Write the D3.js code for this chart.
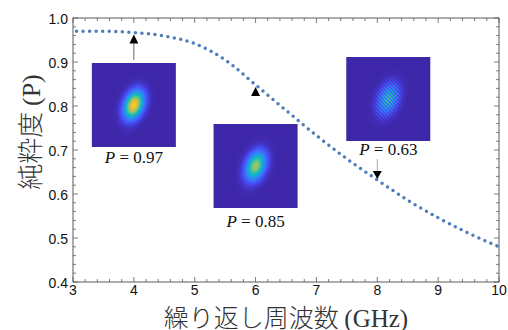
<!DOCTYPE html>
<html>
<head>
<meta charset="utf-8">
<script src="https://cdn.jsdelivr.net/npm/d3@7"></script>
<style>
  html, body { margin: 0; padding: 0; background: #fff; }
  svg { display: block; }
  .sans { font-family: 'Liberation Sans', Arial, sans-serif; }
  .serif { font-family: 'Liberation Serif', 'DejaVu Serif', serif; }
  .cjk { font-family: 'Noto Sans CJK JP', sans-serif; font-weight: 300; }
</style>
</head>
<body>
<svg id="chart"></svg>
<script>
const WIDTH = 508;
const HEIGHT = 330;

// purity vs repetition frequency
const freq = [3, 3.5, 4, 4.5, 5, 5.5, 6, 6.5, 7, 7.5, 8, 8.5, 9, 9.5, 10];
const purity = [0.970, 0.970, 0.967, 0.959, 0.942, 0.905, 0.848, 0.790, 0.733, 0.680, 0.632, 0.586, 0.546, 0.511, 0.480];

const xTicks = [3, 4, 5, 6, 7, 8, 9, 10];
const yTicks = [0.4, 0.5, 0.6, 0.7, 0.8, 0.9, 1.0];

// annotated points (inset images)
const markFreq = [4, 6, 8];
const markPurity = [0.97, 0.85, 0.63];
const markDir = ['up', 'up', 'down'];

const margin = { top: 18, right: 9, bottom: 48, left: 73 };

const svg = d3.select('#chart').attr('width', WIDTH).attr('height', HEIGHT);

const x = d3.scaleLinear().domain([3, 10]).range([margin.left, WIDTH - margin.right]);
const y = d3.scaleLinear().domain([0.4, 1.0]).range([HEIGHT - margin.bottom, margin.top]);

const frameColor = '#5a5a5a';
const x0 = x.range()[0], x1 = x.range()[1];
const y0 = y.range()[0], y1 = y.range()[1];

// frame
svg.append('rect')
	.attr('x', x0).attr('y', y1)
	.attr('width', x1 - x0).attr('height', y0 - y1)
	.attr('fill', 'none')
	.attr('stroke', frameColor)
	.attr('stroke-width', 1);

// ticks, pointing inward on all four sides
const xMinor = d3.range(3, 10.001, 0.2);
const yMinor = d3.range(0.4, 1.0001, 0.02);
const tickG = svg.append('g').attr('stroke', frameColor).attr('stroke-width', 0.8);

xMinor.forEach((v) => {
	const major = Math.abs(v - Math.round(v)) < 1e-6;
	const len = major ? 5 : 3;
	tickG.append('line').attr('x1', x(v)).attr('x2', x(v)).attr('y1', y0).attr('y2', y0 - len);
	tickG.append('line').attr('x1', x(v)).attr('x2', x(v)).attr('y1', y1).attr('y2', y1 + len);
});
yMinor.forEach((v) => {
	const major = Math.abs(v * 10 - Math.round(v * 10)) < 1e-6;
	const len = major ? 5 : 3;
	tickG.append('line').attr('y1', y(v)).attr('y2', y(v)).attr('x1', x0).attr('x2', x0 + len);
	tickG.append('line').attr('y1', y(v)).attr('y2', y(v)).attr('x1', x1).attr('x2', x1 - len);
});

// tick labels
svg.append('g')
	.selectAll('text')
	.data(xTicks)
	.enter()
	.append('text')
	.attr('class', 'sans')
	.attr('x', (d) => x(d))
	.attr('y', y0 + 13)
	.attr('text-anchor', 'middle')
	.attr('font-size', '14px')
	.attr('fill', '#111')
	.text((d) => d);

svg.append('g')
	.selectAll('text')
	.data(yTicks)
	.enter()
	.append('text')
	.attr('class', 'sans')
	.attr('x', x0 - 5)
	.attr('y', (d) => y(d))
	.attr('dy', '0.42em')
	.attr('text-anchor', 'end')
	.attr('font-size', '14px')
	.attr('fill', '#111')
	.text((d) => d.toFixed(1));

// axis titles
const xTitle = svg.append('text')
	.attr('x', (x0 + x1) / 2)
	.attr('y', 327)
	.attr('text-anchor', 'middle')
	.attr('font-size', '25px')
	.attr('fill', '#333');
xTitle.append('tspan').attr('class', 'cjk').text('繰り返し周波数 ');
xTitle.append('tspan').attr('class', 'serif').text('(GHz)');

const yTitle = svg.append('text')
	.attr('transform', 'translate(40,132) rotate(-90)')
	.attr('text-anchor', 'middle')
	.attr('font-size', '26px')
	.attr('fill', '#333');
yTitle.append('tspan').attr('class', 'cjk').text('純粋度 ');
yTitle.append('tspan').attr('class', 'serif').text('(P)');

// dotted curve
const line = d3.line()
	.x((d) => x(d[0]))
	.y((d) => y(d[1]))
	.curve(d3.curveMonotoneX);

svg.append('path')
	.datum(freq.map((f, i) => [f, purity[i]]))
	.attr('d', line)
	.attr('fill', 'none')
	.attr('stroke', '#4f7cba')
	.attr('stroke-width', 3.5)
	.attr('stroke-linecap', 'round')
	.attr('stroke-dasharray', '0 6.55')
	.attr('stroke-dashoffset', -3.5);

// parula-like colour map
const parula = d3.scaleLinear()
	.domain([0, 0.1, 0.2, 0.3, 0.4, 0.5, 0.6, 0.7, 0.8, 0.9, 1])
	.range(['#3e26a8', '#4748f0', '#3d6efc', '#2b8ef2', '#12a9d8', '#1cbcb1', '#5ec68a',
		'#a5c45c', '#e2b93c', '#fcc933', '#f9fb0e'])
	.interpolate(d3.interpolateRgb)
	.clamp(true);

function blobImage(size, peak, su, sv, theta, fringe) {
	const canvas = document.createElement('canvas');
	canvas.width = size;
	canvas.height = size;
	const ctx = canvas.getContext('2d');
	const img = ctx.createImageData(size, size);
	const c = size / 2;
	const s = Math.sin(theta), co = Math.cos(theta);
	for (let j = 0; j < size; j++) {
		for (let i = 0; i < size; i++) {
			const dx = i + 0.5 - c, dy = j + 0.5 - c;
			const u = dx * s - dy * co;
			const v = dx * co + dy * s;
			let t = peak * Math.exp(-(u * u) / (2 * su * su) - (v * v) / (2 * sv * sv));
			if (fringe) {
				t *= 0.62 + 0.38 * Math.cos((2 * Math.PI * (u * 0.9 + v * 0.45)) / 2.7);
			}
			const col = d3.rgb(parula(t));
			const k = (j * size + i) * 4;
			img.data[k] = col.r;
			img.data[k + 1] = col.g;
			img.data[k + 2] = col.b;
			img.data[k + 3] = 255;
		}
	}
	ctx.putImageData(img, 0, 0);
	return canvas.toDataURL();
}

const insetSize = 84;
const insets = [
	{ dx: 0, top: 63, labelY: 163, peak: 0.9, su: 9.6, sv: 6.0, fringe: false },
	{ dx: 0, top: 124, labelY: 227, peak: 0.7, su: 10.0, sv: 6.2, fringe: false },
	{ dx: 11, top: 57, labelY: 155, peak: 0.66, su: 10.5, sv: 6.4, fringe: true }
];

markFreq.forEach((f, i) => {
	const cfg = insets[i];
	const cx = x(f) + cfg.dx;
	svg.append('image')
		.attr('x', cx - insetSize / 2)
		.attr('y', cfg.top)
		.attr('width', insetSize)
		.attr('height', insetSize)
		.attr('href', blobImage(insetSize, cfg.peak, cfg.su, cfg.sv, 0.36, cfg.fringe));

	const label = svg.append('text')
		.attr('class', 'serif')
		.attr('x', cx)
		.attr('y', cfg.labelY)
		.attr('text-anchor', 'middle')
		.attr('font-size', '17px')
		.attr('fill', '#111');
	label.append('tspan').attr('font-style', 'italic').text('P');
	label.append('tspan').text(' = ' + markPurity[i].toFixed(2));

	// arrow to the curve
	const px = x(f);
	const py = y(purity[freq.indexOf(f)]);
	if (markDir[i] === 'up') {
		const tip = py + 2;
		svg.append('path')
			.attr('d', `M${px},${tip}L${px - 4.5},${tip + 9}L${px + 4.5},${tip + 9}Z`)
			.attr('fill', '#000');
		if (i === 0) {
			svg.append('line')
				.attr('x1', px).attr('x2', px)
				.attr('y1', tip + 9).attr('y2', cfg.top - 3)
				.attr('stroke', '#555').attr('stroke-width', 0.9);
		}
	} else {
		const tip = py - 1;
		svg.append('path')
			.attr('d', `M${px},${tip}L${px - 4.5},${tip - 8}L${px + 4.5},${tip - 8}Z`)
			.attr('fill', '#000');
		svg.append('line')
			.attr('x1', px).attr('x2', px)
			.attr('y1', tip - 8).attr('y2', cfg.labelY + 4)
			.attr('stroke', '#999').attr('stroke-width', 0.8);
	}
});
</script>
</body>
</html>
